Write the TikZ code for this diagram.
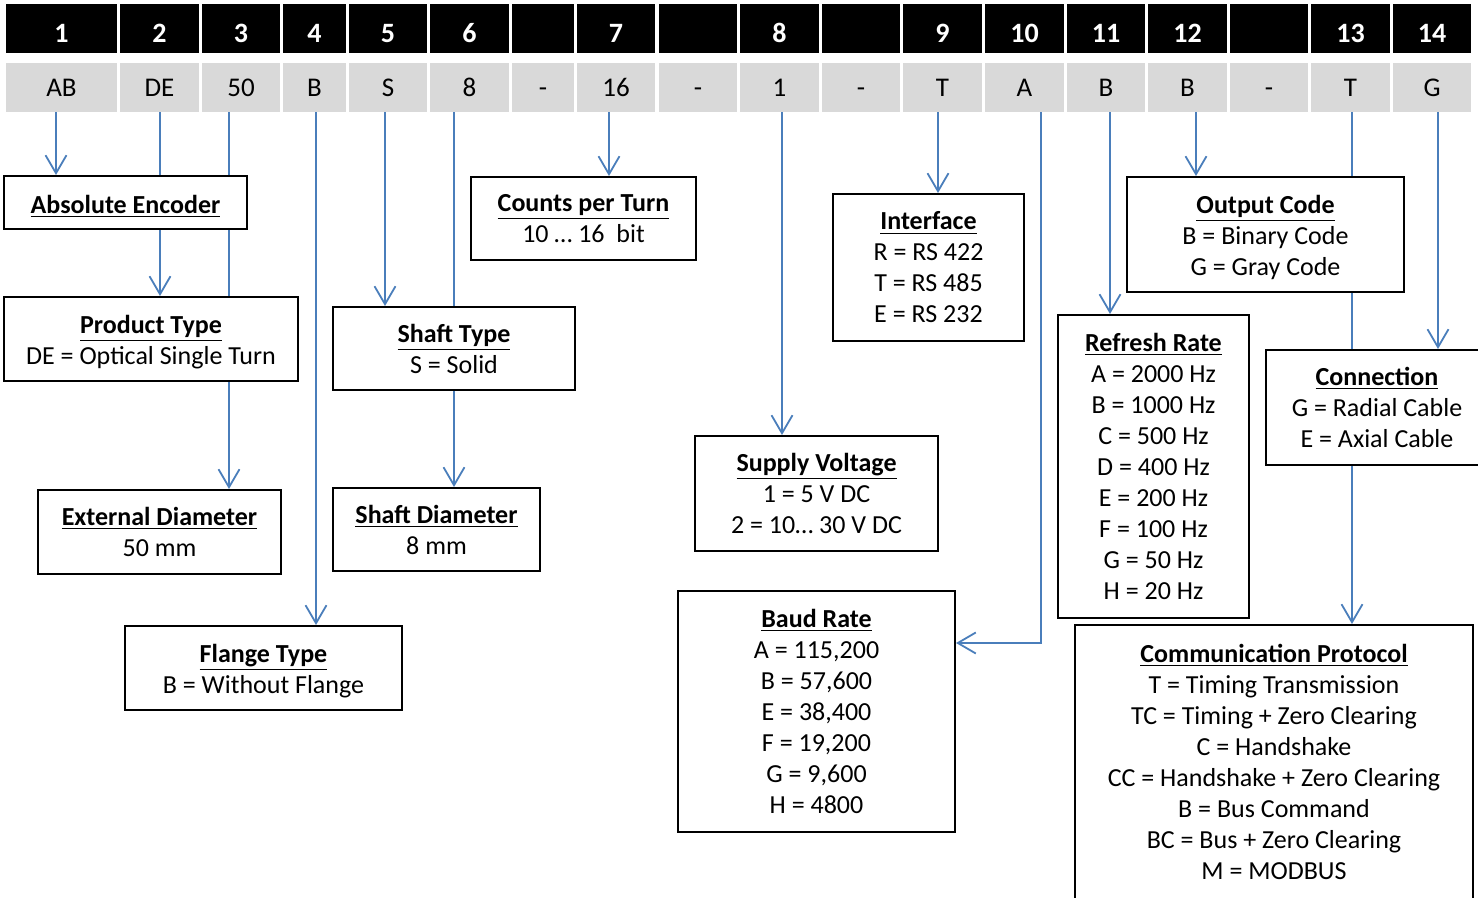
\documentclass[tikz,border=0pt]{standalone}
\usepackage{fontspec}
\setmainfont{Carlito}
\usetikzlibrary{arrows.meta,backgrounds}

\definecolor{linkblue}{RGB}{74,126,187}
\definecolor{codegray}{RGB}{217,217,217}
\newcommand{\boxtitle}[1]{\textbf{\underline{#1}}}

\tikzset{
  numcell/.style={fill=black, text=white, inner sep=0pt, minimum height=24.5pt,
    text height=14.5pt, text depth=0pt, font=\bfseries\fontsize{14}{16}\selectfont},
  codecell/.style={fill=codegray, inner sep=0pt, minimum height=24.5pt,
    text height=8.7pt, text depth=0pt, font=\fontsize{13.5}{16}\selectfont},
  infobox/.style={draw, line width=1pt, fill=white, align=center, inner sep=0pt,
    font=\fontsize{13}{15.5}\selectfont},
  pinarrow/.style={draw=linkblue, line width=0.9pt,
    -{Straight Barb[length=9pt,width=10.5pt,line width=0.9pt]}}
}

\begin{document}
\begin{tikzpicture}[x=0.5pt, y=-0.5pt]

  \useasboundingbox (0,0) rectangle (1478,898);
  \clip (0,0) rectangle (1478,898);

  % position numbers and code letters
  \node [numcell,minimum width=55.5pt] (n1)  at (61.5,28.5)   {1};
  \node [codecell,minimum width=55.5pt] (c1) at (61.5,87.5)   {AB};
  \node [numcell,minimum width=39.5pt] (n2)  at (159.5,28.5)  {2};
  \node [codecell,minimum width=39.5pt] (c2) at (159.5,87.5)  {DE};
  \node [numcell,minimum width=39pt] (n3)    at (241,28.5)    {3};
  \node [codecell,minimum width=39pt] (c3)   at (241,87.5)    {50};
  \node [numcell,minimum width=31.5pt] (n4)  at (314.5,28.5)  {4};
  \node [codecell,minimum width=31.5pt] (c4) at (314.5,87.5)  {B};
  \node [numcell,minimum width=39pt] (n5)    at (388,28.5)    {5};
  \node [codecell,minimum width=39pt] (c5)   at (388,87.5)    {S};
  \node [numcell,minimum width=39.5pt] (n6)  at (469.5,28.5)  {6};
  \node [codecell,minimum width=39.5pt] (c6) at (469.5,87.5)  {8};
  \node [numcell,minimum width=31pt] (nb1)   at (543,28.5)    {};
  \node [codecell,minimum width=31pt] (cb1)  at (543,87.5)    {-};
  \node [numcell,minimum width=39pt] (n7)    at (616,28.5)    {7};
  \node [codecell,minimum width=39pt] (c7)   at (616,87.5)    {16};
  \node [numcell,minimum width=39pt] (nb2)   at (698,28.5)    {};
  \node [codecell,minimum width=39pt] (cb2)  at (698,87.5)    {-};
  \node [numcell,minimum width=39.5pt] (n8)  at (779.5,28.5)  {8};
  \node [codecell,minimum width=39.5pt] (c8) at (779.5,87.5)  {1};
  \node [numcell,minimum width=39pt] (nb3)   at (861,28.5)    {};
  \node [codecell,minimum width=39pt] (cb3)  at (861,87.5)    {-};
  \node [numcell,minimum width=39.5pt] (n9)  at (942.5,28.5)  {9};
  \node [codecell,minimum width=39.5pt] (c9) at (942.5,87.5)  {T};
  \node [numcell,minimum width=39.5pt] (n10)  at (1024.5,28.5) {10};
  \node [codecell,minimum width=39.5pt] (c10) at (1024.5,87.5) {A};
  \node [numcell,minimum width=39pt] (n11)    at (1106,28.5)   {11};
  \node [codecell,minimum width=39pt] (c11)   at (1106,87.5)   {B};
  \node [numcell,minimum width=39.5pt] (n12)  at (1187.5,28.5) {12};
  \node [codecell,minimum width=39.5pt] (c12) at (1187.5,87.5) {B};
  \node [numcell,minimum width=39pt] (nb4)    at (1269,28.5)   {};
  \node [codecell,minimum width=39pt] (cb4)   at (1269,87.5)   {-};
  \node [numcell,minimum width=39.5pt] (n13)  at (1350.5,28.5) {13};
  \node [codecell,minimum width=39.5pt] (c13) at (1350.5,87.5) {T};
  \node [numcell,minimum width=39pt] (n14)    at (1432,28.5)   {14};
  \node [codecell,minimum width=39pt] (c14)   at (1432,87.5)   {G};

  % description boxes
  \node [infobox,minimum width=121.5pt,minimum height=26.5pt,text height=13pt] (absenc) at (125.5,202.5)
    {\boxtitle{Absolute Encoder}};
  \node [infobox,minimum width=147pt,minimum height=42pt] (prodtype) at (151,339)
    {\rule{0pt}{12.5pt}\boxtitle{Product Type}\\DE = Optical Single Turn};
  \node [infobox,minimum width=121.5pt,minimum height=42pt] (extdia) at (159.5,532)
    {\boxtitle{External Diameter}\\50 mm};
  \node [infobox,minimum width=138.5pt,minimum height=42pt] (flange) at (263.5,668)
    {\rule{0pt}{12pt}\boxtitle{Flange Type}\\B = Without Flange};
  \node [infobox,minimum width=121pt,minimum height=41.5pt] (shafttype) at (454,348.5)
    {\boxtitle{Shaft Type}\\S = Solid};
  \node [infobox,minimum width=103.5pt,minimum height=41.5pt] (shaftdia) at (436.5,529.5)
    {\boxtitle{Shaft Diameter}\\8 mm};
  \node [infobox,minimum width=112.5pt,minimum height=41.5pt] (counts) at (583.5,218.5)
    {\boxtitle{Counts per Turn}\\10 … 16~ bit};
  \node [infobox,minimum width=95.5pt,minimum height=73.5pt] (interface) at (928.5,267.5)
    {\boxtitle{Interface}\\R = RS 422\\T = RS 485\\E = RS 232};
  \node [infobox,minimum width=121.5pt,minimum height=57.5pt] (supply) at (816.5,493.5)
    {\boxtitle{Supply Voltage}\\1 = 5 V DC\\2 = 10… 30 V DC};
  \node [infobox,minimum width=138.5pt,minimum height=120.5pt] (baud) at (816.5,711.5)
    {\boxtitle{Baud Rate}\\A = 115,200\\B = 57,600\\E = 38,400\\F = 19,200\\G = 9,600\\H = 4800};
  \node [infobox,minimum width=138.5pt,minimum height=57.5pt] (output) at (1265.5,234.5)
    {\rule{0pt}{12pt}\boxtitle{Output Code}\\B = Binary Code\\G = Gray Code};
  \node [infobox,minimum width=95.5pt,minimum height=151.5pt] (refresh) at (1153.5,466.5)
    {\boxtitle{Refresh Rate}\\A = 2000 Hz\\B = 1000 Hz\\C = 500 Hz\\D = 400 Hz\\E = 200 Hz\\F = 100 Hz\\G = 50 Hz\\H = 20 Hz};
  \node [infobox,minimum width=111pt,minimum height=57.5pt] (connection) at (1377,407.5)
    {\boxtitle{Connection}\\G = Radial Cable\\E = Axial Cable};
  \node [infobox,minimum width=199pt,minimum height=137pt] (comm) at (1274,762)
    {\boxtitle{Communication Protocol}\\T = Timing Transmission\\TC = Timing + Zero Clearing\\C = Handshake\\CC = Handshake + Zero Clearing\\B = Bus Command\\BC = Bus + Zero Clearing\\M = MODBUS};

  % connectors run behind the boxes
  \begin{scope}[on background layer]
    \draw [pinarrow] ([xshift=-2.75pt]c1.south) -- ([xshift=-2.75pt]c1.south |- absenc.north);
    \draw [pinarrow] ([xshift=0.25pt]c2.south) -- ([xshift=0.25pt]c2.south |- prodtype.north);
    \draw [pinarrow] ([xshift=-6pt]c3.south) -- ([xshift=-6pt]c3.south |- extdia.north);
    \draw [pinarrow] ([xshift=0.75pt]c4.south) -- ([xshift=0.75pt]c4.south |- flange.north);
    \draw [pinarrow] ([xshift=-1.5pt]c5.south) -- ([xshift=-1.5pt]c5.south |- shafttype.north);
    \draw [pinarrow] ([xshift=-7.75pt]c6.south) -- ([xshift=-7.75pt]c6.south |- shaftdia.north);
    \draw [pinarrow] ([xshift=-3.5pt]c7.south) -- ([xshift=-3.5pt]c7.south |- counts.north);
    \draw [pinarrow] ([xshift=1.25pt]c8.south) -- ([xshift=1.25pt]c8.south |- supply.north);
    \draw [pinarrow] ([xshift=-2.25pt]c9.south) -- ([xshift=-2.25pt]c9.south |- interface.north);
    \draw [pinarrow] ([xshift=8.25pt]c10.south) |- ([yshift=34.25pt]baud.east);
    \draw [pinarrow] ([xshift=2pt]c11.south) -- ([xshift=2pt]c11.south |- refresh.north);
    \draw [pinarrow] ([xshift=4.25pt]c12.south) -- ([xshift=4.25pt]c12.south |- output.north);
    \draw [pinarrow] ([xshift=0.75pt]c13.south) -- ([xshift=0.75pt]c13.south |- comm.north);
    \draw [pinarrow] ([xshift=3pt]c14.south) -- ([xshift=3pt]c14.south |- connection.north);
  \end{scope}

\end{tikzpicture}
\end{document}
